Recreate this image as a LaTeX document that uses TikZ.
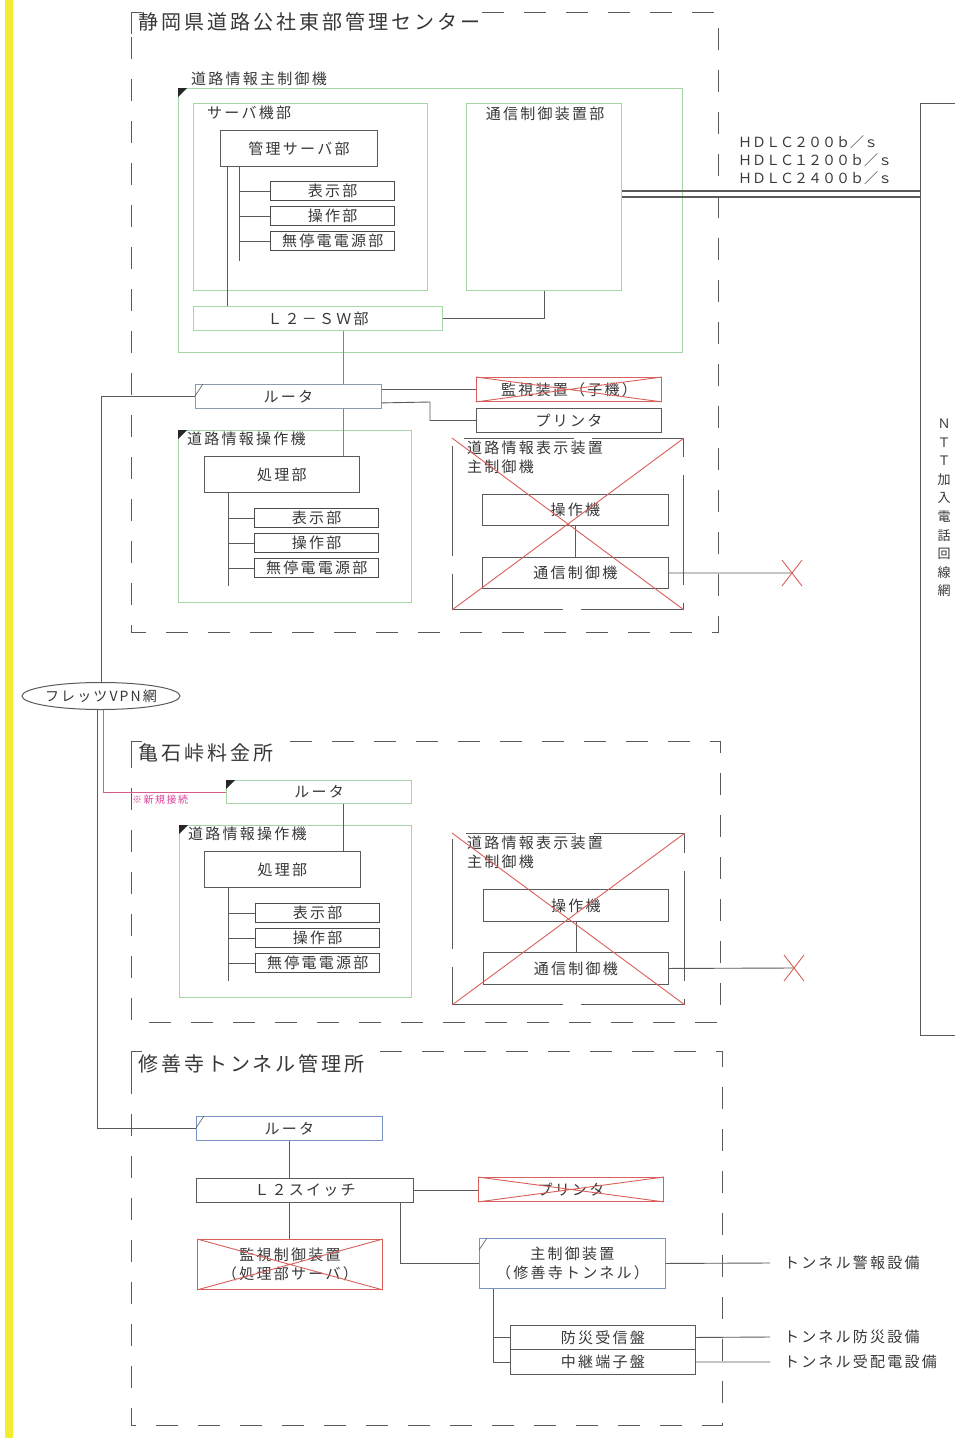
\documentclass[tikz,border=0pt]{standalone}
\usepackage{fontspec}
\setmainfont{Noto Sans CJK JP}[LetterSpace=15]
\newfontfamily\plainjp{Noto Sans CJK JP}
\usetikzlibrary{calc,shapes.geometric}
\definecolor{gline}{HTML}{A6D6A6}
\definecolor{rline}{HTML}{D9605A}
\definecolor{bline}{HTML}{7894C4}
\definecolor{rgline}{HTML}{8C9AB0}
\definecolor{pinkl}{HTML}{D95A8C}
\definecolor{pinkt}{HTML}{E0409A}
\definecolor{lgray}{HTML}{5A5A5A}
\definecolor{yellowbar}{rgb}{0.95,0.93,0.2}
\tikzset{
  every node/.style={text=black!78},
  ln/.style={draw=lgray, line width=0.9pt},
  redln/.style={draw=rline, line width=0.9pt},
  pinkln/.style={draw=pinkl, line width=0.9pt},
  secl/.style={draw=lgray, line width=1pt, dash pattern=on 22pt off 20pt},
  secc/.style={draw=lgray, line width=1pt},
  kbox/.style={draw=lgray, line width=0.9pt, rectangle, inner sep=0pt, anchor=north west, align=center, font=\fontsize{15}{19}\selectfont},
  sbox/.style={kbox, line width=1.3pt, draw=black!70},
  gbox/.style={kbox, draw=gline, line width=1pt},
  rbox/.style={kbox, draw=rgline},
  bbox/.style={kbox, draw=bline},
  xbox/.style={kbox, draw=rline},
  dbox/.style={kbox, draw=lgray, line width=1pt, dash pattern=on 110pt off 18pt},
  lbl/.style={inner sep=0pt, font=\fontsize{15}{19}\selectfont, align=left},
  ttl/.style={inner sep=0pt, anchor=west, font=\fontsize{20}{24}\selectfont},
  sidelbl/.style={inner sep=0pt, anchor=west, font=\fontsize{15}{19}\selectfont},
}
\begin{document}
\begin{tikzpicture}[x=1pt,y=-1pt]
\useasboundingbox (0,0) rectangle (954,1438);
\path[fill=white] (0,0) rectangle (954,1438);
\path[fill=yellowbar] (5,0) rectangle (13,1438);

% ================= Section 1 =================
\draw[secc] (131,34) -- (131,12) -- (142,12);
\draw[secl] (482,12) -- (718,12) -- (718,632) -- (131,632) -- (131,34);
\node[ttl] (t1) at (138,22) {静岡県道路公社東部管理センター};

\node[gbox, minimum width=504, minimum height=264] (shu) at (178,88) {};
\fill[black!85] (shu.north west) -- ++(9,0) -- ++(-9,9) -- cycle;
\node[lbl, anchor=south west] (shuL) at (191,86) {道路情報主制御機};

\node[gbox, minimum width=234, minimum height=187] (srv) at (193,103) {};
\node[lbl, anchor=north west] (srvL) at (207,106) {サーバ機部};
\node[kbox, minimum width=157, minimum height=36] (kanri) at (220,130) {管理サーバ部};
\node[sbox, minimum width=124, minimum height=19] (hy1) at (270,181) {表示部};
\node[sbox, minimum width=124, minimum height=19] (so1) at (270,206) {操作部};
\node[sbox, minimum width=124, minimum height=19] (mu1) at (270,231) {無停電電源部};

\node[gbox, minimum width=155, minimum height=187] (tsu) at (466,103) {};
\node[lbl, anchor=north] (tsuL) at (545,107) {通信制御装置部};

\node[gbox, minimum width=249, minimum height=24] (l2sw) at (193,306) {Ｌ２－ＳＷ部};

\coordinate (k1a) at ($(kanri.south west)+(7,0)$);
\draw[ln] (k1a) -- (k1a |- l2sw.north);
\coordinate (k1b) at ($(kanri.south west)+(19,0)$);
\coordinate (k1e) at ($(kanri.south west)+(19,94)$);
\draw[ln] (k1b) -- (k1e);
\draw[ln] (hy1.west) -- (hy1.west -| k1b);
\draw[ln] (so1.west) -- (so1.west -| k1b);
\draw[ln] (mu1.west) -- (mu1.west -| k1b);
\draw[ln] (l2sw.east) -| (tsu.south);

% NTT network
\node[draw=lgray, line width=1.2pt, rectangle, anchor=north west, minimum width=60, minimum height=932, inner sep=0pt] (ntt) at (920,103) {};
\node[inner sep=0pt, align=center, font=\plainjp\fontsize{13}{18.6}\selectfont] (nttL) at (944,508) {Ｎ\\Ｔ\\Ｔ\\加\\入\\電\\話\\回\\線\\網};
\draw[ln, line width=1.2pt] ($(tsu.east)+(0,-6)$) -- ($(ntt.west |- tsu.east)+(0,-6)$);
\draw[ln, line width=1.2pt] (tsu.east) -- (ntt.west |- tsu.east);
\node[inner sep=0pt, anchor=west, font=\plainjp\fontsize{14}{16}\selectfont] (h1) at (738,142) {ＨＤＬＣ２００ｂ／ｓ};
\node[inner sep=0pt, anchor=west, font=\plainjp\fontsize{14}{16}\selectfont] (h2) at (738,160) {ＨＤＬＣ１２００ｂ／ｓ};
\node[inner sep=0pt, anchor=west, font=\plainjp\fontsize{14}{16}\selectfont] (h3) at (738,178) {ＨＤＬＣ２４００ｂ／ｓ};

% router 1
\node[rbox, minimum width=186, minimum height=24] (r1) at (195,384) {ルータ};
\draw[ln, line width=0.6pt] ($(r1.north west)+(0,12)$) -- ($(r1.north west)+(8,0)$);
\node[xbox, minimum width=185, minimum height=24] (ks1) at (476,377) {監視装置（子機）};
\draw[redln] (ks1.north west) -- (ks1.south east) (ks1.south west) -- (ks1.north east);
\node[kbox, minimum width=185, minimum height=24] (pr1) at (476,408) {プリンタ};
\draw[ln] (ks1.west) -- (ks1.west -| r1.east);
\draw[ln] (pr1.west) -| (430,402) -- ($(r1.south east)+(0,-6)$);

\coordinate (rd) at ($(l2sw.south west)+(150,0)$);
\draw[redln] (rd) -- (rd |- r1.north);

% operation unit 1
\node[gbox, minimum width=233, minimum height=172] (op1) at (178,430) {};
\fill[black!85] (op1.north west) -- ++(9,0) -- ++(-9,9) -- cycle;
\node[lbl, anchor=north west] (op1L) at (187,432) {道路情報操作機};
\node[kbox, minimum width=155, minimum height=36] (sh1) at (204,456) {処理部};
\draw[redln] (rd |- r1.south) -- (rd |- sh1.north);
\node[sbox, minimum width=124, minimum height=19] (hy2) at (254,508) {表示部};
\node[sbox, minimum width=124, minimum height=19] (so2) at (254,533) {操作部};
\node[sbox, minimum width=124, minimum height=19] (mu2) at (254,558) {無停電電源部};
\coordinate (s1a) at ($(sh1.south west)+(24,0)$);
\coordinate (s1e) at ($(sh1.south west)+(24,93)$);
\draw[ln] (s1a) -- (s1e);
\draw[ln] (hy2.west) -- (hy2.west -| s1a);
\draw[ln] (so2.west) -- (so2.west -| s1a);
\draw[ln] (mu2.west) -- (mu2.west -| s1a);

% display unit 1
\node[dbox, minimum width=231, minimum height=171] (dp1) at (452,438) {};
\node[lbl, anchor=north west] (dp1L) at (467,441) {道路情報表示装置\\主制御機};
\node[kbox, minimum width=186, minimum height=31] (sk1) at (482,494) {操作機};
\node[kbox, minimum width=186, minimum height=31] (tk1) at (482,557) {通信制御機};
\draw[ln] (sk1.south) -- (tk1.north);
\draw[redln] (dp1.north west) -- (dp1.south east) (dp1.south west) -- (dp1.north east);
\coordinate (x1) at (792,573);
\draw[ln] (tk1.east) -- (x1);
\draw[redln] ($(x1)+(-10,-13)$) -- ($(x1)+(10,13)$) ($(x1)+(-10,13)$) -- ($(x1)+(10,-13)$);

% VPN
\node[draw=lgray, line width=1pt, ellipse, minimum width=155, minimum height=27, inner sep=0pt, font=\fontsize{14}{16}\selectfont] (vpn) at (101,696) {フレッツVPN網};
\draw[ln] (r1.west) -| (vpn.north);

% ================= Section 2 =================
\draw[secc] (131,765) -- (131,741) -- (142,741);
\draw[secl] (290,741) -- (720,741) -- (720,1022) -- (131,1022) -- (131,765);
\node[ttl] (t2) at (138,753) {亀石峠料金所};

\node[gbox, minimum width=185, minimum height=23] (r2) at (226,780) {ルータ};
\fill[black!85] (r2.north west) -- ++(9,0) -- ++(-9,9) -- cycle;
\coordinate (vp) at ($(vpn.south)+(2,0)$);
\draw[pinkln] (vp) |- (r2.west);
\node[inner sep=0pt, anchor=north west, text=pinkt, font=\fontsize{10}{12}\selectfont] (newc) at (132,795) {※新規接続};

\node[gbox, minimum width=232, minimum height=172] (op2) at (179,825) {};
\fill[black!85] (op2.north west) -- ++(9,0) -- ++(-9,9) -- cycle;
\node[lbl, anchor=north west] (op2L) at (188,827) {道路情報操作機};
\node[kbox, minimum width=156, minimum height=36] (sh2) at (204,851) {処理部};
\coordinate (r2d) at ($(r2.south west)+(117,0)$);
\draw[ln] (r2d) -- (r2d |- sh2.north);
\node[sbox, minimum width=124, minimum height=19] (hy3) at (255,903) {表示部};
\node[sbox, minimum width=124, minimum height=19] (so3) at (255,928) {操作部};
\node[sbox, minimum width=124, minimum height=19] (mu3) at (255,953) {無停電電源部};
\coordinate (s2a) at ($(sh2.south west)+(24,0)$);
\coordinate (s2e) at ($(sh2.south west)+(24,93)$);
\draw[ln] (s2a) -- (s2e);
\draw[ln] (hy3.west) -- (hy3.west -| s2a);
\draw[ln] (so3.west) -- (so3.west -| s2a);
\draw[ln] (mu3.west) -- (mu3.west -| s2a);

\node[dbox, minimum width=232, minimum height=171] (dp2) at (452,833) {};
\node[lbl, anchor=north west] (dp2L) at (467,836) {道路情報表示装置\\主制御機};
\node[kbox, minimum width=185, minimum height=32] (sk2) at (483,889) {操作機};
\node[kbox, minimum width=185, minimum height=32] (tk2) at (483,952) {通信制御機};
\draw[ln] (sk2.south) -- (tk2.north);
\draw[redln] (dp2.north west) -- (dp2.south east) (dp2.south west) -- (dp2.north east);
\coordinate (x2) at (794,968);
\draw[ln] (tk2.east) -- (x2);
\draw[redln] ($(x2)+(-10,-13)$) -- ($(x2)+(10,13)$) ($(x2)+(-10,13)$) -- ($(x2)+(10,-13)$);

% ================= Section 3 =================
\draw[secc] (131,1075) -- (131,1051) -- (142,1051);
\draw[secl] (380,1051) -- (722,1051) -- (722,1425) -- (131,1425) -- (131,1075);
\node[ttl] (t3) at (138,1064) {修善寺トンネル管理所};

\node[bbox, minimum width=186, minimum height=24] (r3) at (196,1116) {ルータ};
\draw[ln, line width=0.6pt] ($(r3.north west)+(0,12)$) -- ($(r3.north west)+(8,0)$);
\coordinate (vg) at ($(vpn.south)+(-4,0)$);
\draw[ln] (vg) |- (r3.west);

\node[kbox, minimum width=217, minimum height=24] (l2s) at (196,1178) {Ｌ２スイッチ};
\draw[ln] (r3.south) -- (r3.south |- l2s.north);
\node[xbox, minimum width=185, minimum height=24] (pr3) at (478,1177) {プリンタ};
\draw[redln] (pr3.north west) -- (pr3.south east) (pr3.south west) -- (pr3.north east);
\draw[ln] (l2s.east) -- (l2s.east -| pr3.west);

\node[xbox, minimum width=185, minimum height=50] (ks3) at (197,1239) {監視制御装置\\（処理部サーバ）};
\draw[redln] (ks3.north west) -- (ks3.south east) (ks3.south west) -- (ks3.north east);
\draw[ln] (r3.south |- l2s.south) -- (r3.south |- ks3.north);

\node[bbox, minimum width=186, minimum height=50] (mc) at (479,1238) {主制御装置\\（修善寺トンネル）};
\draw[ln, line width=0.6pt] ($(mc.north west)+(0,12)$) -- ($(mc.north west)+(8,0)$);
\draw[ln] ($(l2s.south east)+(-13,0)$) |- (mc.west);

\node[kbox, minimum width=185, minimum height=24] (bs) at (510,1325) {防災受信盤};
\node[kbox, minimum width=185, minimum height=25] (ck) at (510,1349) {中継端子盤};
\coordinate (mb) at ($(mc.south west)+(14,0)$);
\draw[ln] (mb) |- (ck.west);
\draw[ln] (bs.west) -- (bs.west -| mb);

\node[sidelbl, inner xsep=0pt] (e1) at (784,1263) {トンネル警報設備};
\node[sidelbl] (e2) at (784,1337) {トンネル防災設備};
\node[sidelbl] (e3) at (784,1362) {トンネル受配電設備};
\draw[ln] (mc.east) -- ($(e1.west)+(-14,0)$);
\draw[ln] (bs.east) -- ($(e2.west)+(-14,0)$);
\draw[ln] (ck.east) -- ($(e3.west)+(-14,0)$);
\end{tikzpicture}
\end{document}
